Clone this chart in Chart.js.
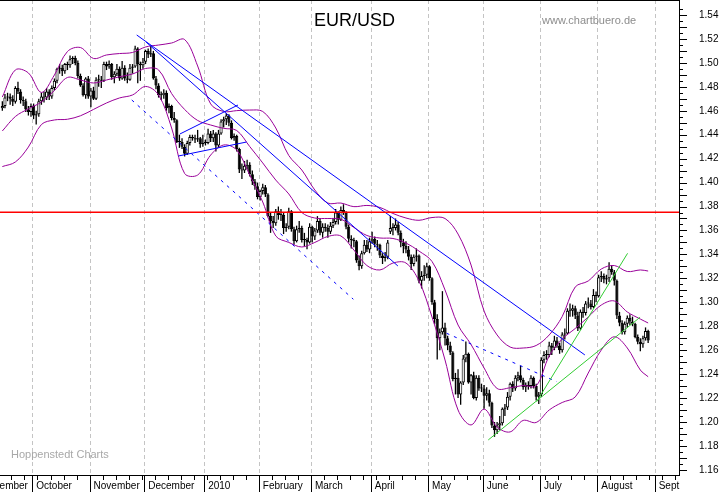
<!DOCTYPE html>
<html>
<head>
<meta charset="utf-8">
<title>EUR/USD</title>
<script src="https://cdn.jsdelivr.net/npm/chart.js@4.4.1/dist/chart.umd.min.js"></script>
<style>
  html, body { margin: 0; padding: 0; background: #fff; }
  #wrap { position: relative; width: 723px; height: 492px; overflow: hidden; font-family: "Liberation Sans", Arial, sans-serif; }
  #chart { position: absolute; left: 0; top: 0; }
  .note { position: absolute; white-space: nowrap; }
  #title { left: 300px; width: 109px; top: 11px; font-size: 18px; line-height: 18px; text-align: center; color: #000; }
  #site { left: 542px; top: 15px; font-size: 11px; line-height: 11px; color: #8c8c8c; }
  #source { left: 11px; top: 449px; font-size: 11px; line-height: 11px; color: #a8a8a8; }
</style>
</head>
<body>
<div id="wrap">
  <canvas id="chart" width="723" height="492"></canvas>
  <div class="note" id="title">EUR/USD</div>
  <div class="note" id="site">www.chartbuero.de</div>
  <div class="note" id="source">Hoppenstedt Charts</div>
</div>
<script>
// Daily EUR/USD candles, one entry per weekday from 15 Sep 2009 (index 0) to 27 Aug 2010
const opens = [
  1.4620,1.4640,1.4710,1.4720,1.4700,1.4675,1.4790,1.4760,1.4690,1.4680,
  1.4610,1.4590,1.4640,1.4560,1.4570,1.4680,1.4720,1.4710,1.4760,1.4720,
  1.4790,1.4850,1.4950,1.4960,1.4930,1.4990,1.4980,1.5030,1.5040,1.5000,
  1.4890,1.4810,1.4730,1.4870,1.4720,1.4770,1.4700,1.4860,1.4860,1.4850,
  1.4990,1.4970,1.4990,1.4880,1.4910,1.4950,1.4870,1.4960,1.4870,1.4860,
  1.4960,1.4970,1.5120,1.4990,1.4980,1.5010,1.5100,1.5070,1.5080,1.4870,
  1.4810,1.4730,1.4730,1.4750,1.4620,1.4640,1.4540,1.4520,1.4340,1.4340,
  1.4300,1.4240,1.4330,1.4380,1.4370,1.4360,1.4370,1.4320,1.4330,1.4330,
  1.4410,1.4370,1.4410,1.4310,1.4410,1.4510,1.4530,1.4560,1.4500,1.4370,
  1.4390,1.4280,1.4110,1.4100,1.4140,1.4150,1.4070,1.4010,1.3970,1.3880,
  1.3930,1.3960,1.3900,1.3720,1.3680,1.3660,1.3760,1.3730,1.3730,1.3620,
  1.3630,1.3760,1.3610,1.3510,1.3610,1.3620,1.3520,1.3520,1.3500,1.3630,
  1.3550,1.3600,1.3680,1.3580,1.3630,1.3620,1.3590,1.3640,1.3670,1.3750,
  1.3690,1.3770,1.3750,1.3630,1.3530,1.3520,1.3510,1.3350,1.3300,1.3410,
  1.3480,1.3440,1.3510,1.3530,1.3490,1.3480,1.3390,1.3370,1.3380,1.3590,
  1.3620,1.3620,1.3650,1.3580,1.3500,1.3470,1.3440,1.3380,1.3320,1.3380,
  1.3390,1.3180,1.3220,1.3230,1.3300,1.3200,1.3000,1.2860,1.2700,1.2750,
  1.2790,1.2700,1.2640,1.2580,1.2360,1.2370,1.2230,1.2330,1.2530,1.2570,
  1.2330,1.2390,1.2200,1.2370,1.2280,1.2280,1.2220,1.2240,1.2160,1.1970,
  1.1930,1.1970,1.1990,1.2110,1.2120,1.2210,1.2320,1.2280,1.2370,1.2390,
  1.2350,1.2290,1.2310,1.2300,1.2370,1.2300,1.2210,1.2230,1.2520,1.2560,
  1.2560,1.2640,1.2620,1.2680,1.2640,1.2600,1.2730,1.2740,1.2930,1.2930,
  1.2950,1.2890,1.2780,1.2920,1.2910,1.2990,1.2990,1.2960,1.3060,1.3050,
  1.3210,1.3220,1.3190,1.3200,1.3280,1.3250,1.3180,1.2890,1.2830,1.2750,
  1.2820,1.2870,1.2840,1.2820,1.2710,1.2670,1.2650,1.2700,1.2760
]
const highs = [
  1.4680,1.4740,1.4750,1.4745,1.4730,1.4805,1.4843,1.4780,1.4720,1.4700,
  1.4640,1.4660,1.4660,1.4600,1.4700,1.4750,1.4760,1.4790,1.4780,1.4810,
  1.4870,1.4960,1.4990,1.4985,1.5000,1.5010,1.5061,1.5055,1.5060,1.5020,
  1.4910,1.4830,1.4880,1.4890,1.4790,1.4800,1.4880,1.4900,1.4890,1.5010,
  1.5010,1.5020,1.5000,1.4930,1.4990,1.4970,1.5016,1.4980,1.4920,1.4990,
  1.4990,1.5144,1.5130,1.5010,1.5040,1.5110,1.5120,1.5144,1.5100,1.4890,
  1.4830,1.4760,1.4780,1.4770,1.4660,1.4650,1.4590,1.4530,1.4400,1.4370,
  1.4320,1.4350,1.4400,1.4400,1.4400,1.4440,1.4380,1.4400,1.4360,1.4450,
  1.4430,1.4440,1.4420,1.4440,1.4530,1.4550,1.4580,1.4570,1.4520,1.4410,
  1.4400,1.4290,1.4160,1.4180,1.4190,1.4170,1.4100,1.4030,1.4000,1.3940,
  1.3990,1.3980,1.3910,1.3750,1.3720,1.3780,1.3800,1.3780,1.3750,1.3660,
  1.3790,1.3770,1.3630,1.3640,1.3680,1.3640,1.3580,1.3540,1.3660,1.3640,
  1.3620,1.3720,1.3700,1.3660,1.3660,1.3650,1.3670,1.3700,1.3780,1.3760,
  1.3800,1.3819,1.3760,1.3650,1.3560,1.3540,1.3520,1.3390,1.3430,1.3520,
  1.3520,1.3540,1.3590,1.3550,1.3520,1.3490,1.3410,1.3420,1.3520,1.3720,
  1.3660,1.3700,1.3670,1.3600,1.3530,1.3510,1.3470,1.3400,1.3400,1.3450,
  1.3400,1.3260,1.3310,1.3330,1.3310,1.3210,1.3020,1.2900,1.2780,1.3093,
  1.2830,1.2720,1.2670,1.2590,1.2410,1.2440,1.2340,1.2560,1.2673,1.2580,
  1.2400,1.2420,1.2390,1.2390,1.2320,1.2310,1.2290,1.2270,1.2170,1.2000,
  1.2000,1.2050,1.2120,1.2150,1.2250,1.2330,1.2340,1.2390,1.2420,1.2470,
  1.2370,1.2330,1.2340,1.2390,1.2380,1.2320,1.2250,1.2540,1.2590,1.2600,
  1.2670,1.2660,1.2720,1.2710,1.2660,1.2750,1.2780,1.2950,1.2990,1.2980,
  1.2970,1.2920,1.2940,1.2960,1.3010,1.3040,1.3020,1.3110,1.3090,1.3230,
  1.3260,1.3240,1.3230,1.3334,1.3310,1.3270,1.3190,1.2920,1.2850,1.2840,
  1.2890,1.2900,1.2880,1.2830,1.2730,1.2700,1.2720,1.2790,1.2770
]
const lows = [
  1.4600,1.4620,1.4680,1.4650,1.4640,1.4660,1.4740,1.4660,1.4640,1.4590,
  1.4560,1.4550,1.4530,1.4485,1.4550,1.4650,1.4670,1.4690,1.4690,1.4700,
  1.4770,1.4830,1.4910,1.4890,1.4910,1.4940,1.4960,1.4990,1.4980,1.4870,
  1.4800,1.4720,1.4700,1.4700,1.4630,1.4690,1.4690,1.4800,1.4790,1.4840,
  1.4940,1.4950,1.4860,1.4830,1.4890,1.4850,1.4860,1.4850,1.4830,1.4850,
  1.4910,1.4960,1.4830,1.4850,1.4950,1.4990,1.5040,1.5050,1.4860,1.4780,
  1.4710,1.4690,1.4700,1.4600,1.4580,1.4520,1.4500,1.4330,1.4290,1.4280,
  1.4218,1.4230,1.4310,1.4350,1.4330,1.4340,1.4290,1.4300,1.4310,1.4320,
  1.4340,1.4340,1.4260,1.4290,1.4400,1.4460,1.4480,1.4470,1.4360,1.4350,
  1.4260,1.4080,1.4030,1.4080,1.4110,1.4050,1.3980,1.3940,1.3860,1.3850,
  1.3900,1.3880,1.3710,1.3580,1.3620,1.3640,1.3690,1.3680,1.3570,1.3590,
  1.3610,1.3590,1.3480,1.3500,1.3580,1.3500,1.3470,1.3444,1.3490,1.3500,
  1.3520,1.3580,1.3560,1.3540,1.3590,1.3540,1.3570,1.3620,1.3650,1.3650,
  1.3680,1.3730,1.3610,1.3500,1.3450,1.3460,1.3330,1.3268,1.3280,1.3400,
  1.3420,1.3410,1.3490,1.3460,1.3430,1.3370,1.3320,1.3340,1.3360,1.3570,
  1.3560,1.3600,1.3560,1.3460,1.3410,1.3410,1.3350,1.3270,1.3300,1.3340,
  1.3160,1.3115,1.3180,1.3200,1.3180,1.2980,1.2820,1.2523,1.2600,1.2730,
  1.2640,1.2600,1.2560,1.2340,1.2230,1.2200,1.2143,1.2310,1.2500,1.2320,
  1.2230,1.2190,1.2180,1.2260,1.2250,1.2110,1.2180,1.2130,1.1950,1.1876,
  1.1900,1.1930,1.1970,1.2050,1.2100,1.2180,1.2250,1.2260,1.2340,1.2330,
  1.2270,1.2250,1.2270,1.2280,1.2280,1.2180,1.2150,1.2210,1.2490,1.2520,
  1.2540,1.2560,1.2600,1.2620,1.2570,1.2580,1.2690,1.2730,1.2880,1.2880,
  1.2860,1.2760,1.2770,1.2870,1.2890,1.2950,1.2940,1.2950,1.3000,1.3040,
  1.3170,1.3160,1.3150,1.3170,1.3230,1.3140,1.2860,1.2800,1.2730,1.2730,
  1.2790,1.2810,1.2800,1.2700,1.2650,1.2590,1.2620,1.2680,1.2660
]
const closes = [
  1.4640,1.4710,1.4720,1.4700,1.4675,1.4790,1.4760,1.4690,1.4680,1.4610,
  1.4590,1.4640,1.4560,1.4570,1.4680,1.4720,1.4710,1.4760,1.4720,1.4790,
  1.4850,1.4950,1.4960,1.4930,1.4990,1.4980,1.5030,1.5040,1.5000,1.4890,
  1.4810,1.4730,1.4870,1.4720,1.4770,1.4700,1.4860,1.4860,1.4850,1.4990,
  1.4970,1.4990,1.4880,1.4910,1.4950,1.4870,1.4960,1.4870,1.4860,1.4960,
  1.4970,1.5120,1.4990,1.4980,1.5010,1.5100,1.5070,1.5080,1.4870,1.4810,
  1.4730,1.4730,1.4750,1.4620,1.4640,1.4540,1.4520,1.4340,1.4340,1.4300,
  1.4240,1.4330,1.4380,1.4370,1.4360,1.4370,1.4320,1.4330,1.4330,1.4410,
  1.4370,1.4410,1.4310,1.4410,1.4510,1.4530,1.4560,1.4500,1.4370,1.4390,
  1.4280,1.4110,1.4100,1.4140,1.4150,1.4070,1.4010,1.3970,1.3880,1.3930,
  1.3960,1.3900,1.3720,1.3680,1.3660,1.3760,1.3730,1.3730,1.3620,1.3630,
  1.3760,1.3610,1.3510,1.3610,1.3620,1.3520,1.3520,1.3500,1.3630,1.3550,
  1.3600,1.3680,1.3580,1.3630,1.3620,1.3590,1.3640,1.3670,1.3750,1.3690,
  1.3770,1.3750,1.3630,1.3530,1.3520,1.3510,1.3350,1.3300,1.3410,1.3480,
  1.3440,1.3510,1.3530,1.3490,1.3480,1.3390,1.3370,1.3380,1.3500,1.3620,
  1.3620,1.3650,1.3580,1.3500,1.3470,1.3440,1.3380,1.3320,1.3380,1.3390,
  1.3180,1.3220,1.3230,1.3300,1.3200,1.3000,1.2860,1.2700,1.2750,1.2790,
  1.2700,1.2640,1.2580,1.2360,1.2370,1.2230,1.2330,1.2530,1.2570,1.2330,
  1.2390,1.2200,1.2370,1.2280,1.2280,1.2220,1.2240,1.2160,1.1970,1.1930,
  1.1970,1.1990,1.2110,1.2120,1.2210,1.2320,1.2280,1.2370,1.2390,1.2350,
  1.2290,1.2310,1.2300,1.2370,1.2300,1.2210,1.2230,1.2520,1.2560,1.2560,
  1.2640,1.2620,1.2680,1.2640,1.2600,1.2730,1.2740,1.2930,1.2930,1.2950,
  1.2890,1.2780,1.2920,1.2910,1.2990,1.2990,1.2960,1.3060,1.3050,1.3210,
  1.3220,1.3190,1.3200,1.3280,1.3250,1.3180,1.2890,1.2830,1.2750,1.2820,
  1.2870,1.2840,1.2820,1.2710,1.2670,1.2650,1.2700,1.2760,1.2680
]

const bandDays = [
  0,5,10,15,20,25,30,35,40,45,50,55,60,65,70,75,80,85,90,95,100,105,110,115,120,
  125,130,135,140,145,150,155,160,165,170,175,180,185,190,195,200,205,210,215,220,
  225,230,235,240,245,248
]
const bandUpper = [
  1.4715,1.4941,1.4916,1.4753,1.4899,1.5095,1.5128,1.5037,1.5066,1.5078,
  1.5087,1.5133,1.5149,1.5166,1.5195,1.4974,1.4657,1.4594,1.4601,1.4606,
  1.4594,1.4456,1.4226,1.4105,1.3938,1.3829,1.3829,1.3799,1.3809,1.3792,
  1.3742,1.3704,1.3685,1.3708,1.3700,1.3570,1.3311,1.2927,1.2727,1.2626,
  1.2618,1.2639,1.2727,1.2881,1.3128,1.3178,1.3278,1.3307,1.3257,1.3270,1.3261
]
const bandMiddle = [
  1.4431,1.4552,1.4616,1.4673,1.4769,1.4878,1.4857,1.4832,1.4857,1.4884,
  1.4907,1.4953,1.4941,1.4744,1.4611,1.4519,1.4481,1.4453,1.4435,1.4301,
  1.4164,1.4021,1.3905,1.3750,1.3704,1.3700,1.3694,1.3625,1.3558,1.3537,
  1.3533,1.3495,1.3428,1.3341,1.3103,1.2810,1.2647,1.2451,1.2280,1.2286,
  1.2305,1.2301,1.2551,1.2693,1.2781,1.2877,1.2977,1.3011,1.2919,1.2860,1.2827
]
const bandLower = [
  1.4134,1.4172,1.4297,1.4485,1.4523,1.4529,1.4558,1.4611,1.4665,1.4707,
  1.4732,1.4803,1.4732,1.4456,1.4076,1.4063,1.4230,1.4314,1.4272,1.4063,
  1.3838,1.3554,1.3500,1.3462,1.3500,1.3550,1.3554,1.3437,1.3307,1.3270,
  1.3328,1.3328,1.3178,1.2877,1.2518,1.2100,1.1975,1.2108,1.1958,1.1917,
  1.2013,1.1996,1.2100,1.2163,1.2209,1.2409,1.2601,1.2712,1.2618,1.2434,1.2378
]

// hand drawn lines: [dayFrom, priceFrom, dayTo, priceTo]
const trendLong = [51.6, 1.5233, 223.7, 1.2560]
const trendSteep = [55.2, 1.5174, 151.9, 1.3303]
const flagTop = [68.2, 1.4406, 90.5, 1.4648]
const flagBottom = [67.6, 1.4222, 93.8, 1.4339]
const dashedWinter = [49.7, 1.4690, 134.8, 1.3025]
const dashedSummer = [170.6, 1.2741, 212.9, 1.2337]
const greenSteep = [205.2, 1.2170, 240.1, 1.3409]
const greenLong = [186.6, 1.1850, 244.9, 1.2875]
const resistance = 1.3752

const monthStarts = [-10.5, 11.5, 33.5, 54.5, 77.5, 98.5, 118.5, 141.5, 163.5, 184.5, 206.5, 228.5, 250.5]
const monthNames = ['September', 'October', 'November', 'December', '2010', 'February', 'March',
  'April', 'May', 'June', 'July', 'August', 'Sept']
const priceTicks = [
  1.16,1.17,1.18,1.19,1.20,1.21,1.22,1.23,1.24,1.25,1.26,1.27,1.28,1.29,1.30,1.31,1.32,
  1.33,1.34,1.35,1.36,1.37,1.38,1.39,1.40,1.41,1.42,1.43,1.44,1.45,1.46,1.47,1.48,1.49,
  1.50,1.51,1.52,1.53,1.54
]

const xMin = -0.9
const xMax = 259.85
const yMin = 1.15571
const yMax = 1.55253

const segment = s => [{ x: s[0], y: s[1] }, { x: s[2], y: s[3] }]
const band = vals => bandDays.map((d, i) => ({ x: d, y: vals[i] }))

const wickData = closes.map((c, i) => ({ x: i, y: [lows[i], highs[i]] }))
const bodyData = closes.map((c, i) => ({ x: i, y: [Math.min(opens[i], c), Math.max(opens[i], c)] }))

const lineStyle = (color, dash) => ({
  type: 'line', borderColor: color, borderWidth: 1, borderDash: dash || [],
  pointRadius: 0, pointHoverRadius: 0, pointBorderWidth: 0, fill: false, tension: 0
})

// dashed month grid, frame top and axis tick marks
const chartDecor = {
  id: 'chartDecor',
  beforeDatasetsDraw(chart) {
    const { ctx, chartArea, scales: { x } } = chart
    ctx.save()
    ctx.strokeStyle = '#c4c4c4'
    ctx.lineWidth = 1
    ctx.setLineDash([4, 3])
    monthStarts.forEach(v => {
      const px = Math.round(x.getPixelForValue(v)) + 0.5
      if (px < chartArea.left || px > chartArea.right) return
      ctx.beginPath()
      ctx.moveTo(px, chartArea.top)
      ctx.lineTo(px, chartArea.bottom)
      ctx.stroke()
    })
    ctx.restore()
  },
  afterDraw(chart) {
    const { ctx, chartArea, scales: { x, y } } = chart
    ctx.save()
    ctx.fillStyle = '#000'
    ctx.fillRect(chartArea.left, chartArea.top, chartArea.right - chartArea.left, 1)
    priceTicks.forEach(v => {
      const py = Math.round(y.getPixelForValue(v))
      ctx.fillRect(chartArea.right, py, 8, 1)
      const ph = Math.round(y.getPixelForValue(v + 0.005))
      if (ph > chartArea.top) ctx.fillRect(chartArea.right, ph, 4, 1)
    })
    for (let v = 3.5; v < xMax; v += 5) {
      ctx.fillRect(Math.round(x.getPixelForValue(v)), chartArea.bottom, 1, 5)
    }
    monthStarts.forEach(v => {
      const px = Math.round(x.getPixelForValue(v))
      ctx.fillRect(px, chartArea.bottom, 1, chart.height - chartArea.bottom)
    })
    ctx.restore()
  }
}

const axisFont = { family: '"Liberation Sans", Arial, sans-serif', size: 10 }

new Chart(document.getElementById('chart'), {
  type: 'bar',
  data: {
    datasets: [
      {
        label: 'range', data: wickData, backgroundColor: '#000', barThickness: 1.3,
        grouped: false, borderWidth: 0, inflateAmount: 0, order: 6
      },
      {
        label: 'body', data: bodyData, barThickness: 3.2, grouped: false, minBarLength: 1,
        backgroundColor: ctx => closes[ctx.dataIndex] < opens[ctx.dataIndex] ? '#000' : '#fff',
        borderColor: '#000', borderWidth: 1, borderSkipped: false, inflateAmount: 0, order: 5
      },
      { ...lineStyle('#990099'), label: 'upper', data: band(bandUpper), tension: 0.35, order: 4 },
      { ...lineStyle('#990099'), label: 'middle', data: band(bandMiddle), tension: 0.35, order: 4 },
      { ...lineStyle('#990099'), label: 'lower', data: band(bandLower), tension: 0.35, order: 4 },
      { ...lineStyle('#0000ff'), label: 'trend 1', data: segment(trendLong), order: 3 },
      { ...lineStyle('#0000ff'), label: 'trend 2', data: segment(trendSteep), order: 3 },
      { ...lineStyle('#0000ff'), label: 'flag top', data: segment(flagTop), order: 3 },
      { ...lineStyle('#0000ff'), label: 'flag bottom', data: segment(flagBottom), order: 3 },
      { ...lineStyle('#0000ff', [3, 5]), label: 'dashed 1', data: segment(dashedWinter), order: 3 },
      { ...lineStyle('#0000ff', [3, 5]), label: 'dashed 2', data: segment(dashedSummer), order: 3 },
      { ...lineStyle('#33cc33'), label: 'green 1', data: segment(greenSteep), order: 2 },
      { ...lineStyle('#33cc33'), label: 'green 2', data: segment(greenLong), order: 2 },
      {
        ...lineStyle('#ff0000'), label: 'resistance', borderWidth: 1.5, order: 1,
        data: [{ x: xMin, y: resistance }, { x: xMax, y: resistance }]
      }
    ]
  },
  options: {
    responsive: false,
    animation: false,
    events: [],
    layout: { padding: 0, autoPadding: false },
    plugins: { legend: { display: false }, tooltip: { enabled: false }, title: { display: false } },
    scales: {
      x: {
        type: 'linear',
        offset: false,
        min: xMin,
        max: xMax,
        grid: { display: false, drawTicks: false, offset: false },
        border: { display: true, color: '#000', width: 1 },
        afterBuildTicks: s => { s.ticks = monthStarts.map(v => ({ value: v })) },
        afterFit: s => { s.height = 17; s.paddingLeft = 0; s.paddingRight = 0 },
        ticks: {
          autoSkip: false, maxRotation: 0, minRotation: 0, align: 'start', labelOffset: 4,
          padding: 5, color: '#000', font: axisFont,
          callback: (v, i) => monthNames[i]
        }
      },
      y: {
        position: 'right',
        min: yMin,
        max: yMax,
        grid: { display: false, drawTicks: false },
        border: { display: true, color: '#000', width: 1 },
        afterBuildTicks: s => { s.ticks = priceTicks.map(v => ({ value: v })) },
        afterFit: s => { s.width = 44; s.paddingTop = 0; s.paddingBottom = 0 },
        ticks: { padding: 20, color: '#000', font: axisFont, callback: v => v.toFixed(2) }
      }
    }
  },
  plugins: [chartDecor]
})
</script>
</body>
</html>
